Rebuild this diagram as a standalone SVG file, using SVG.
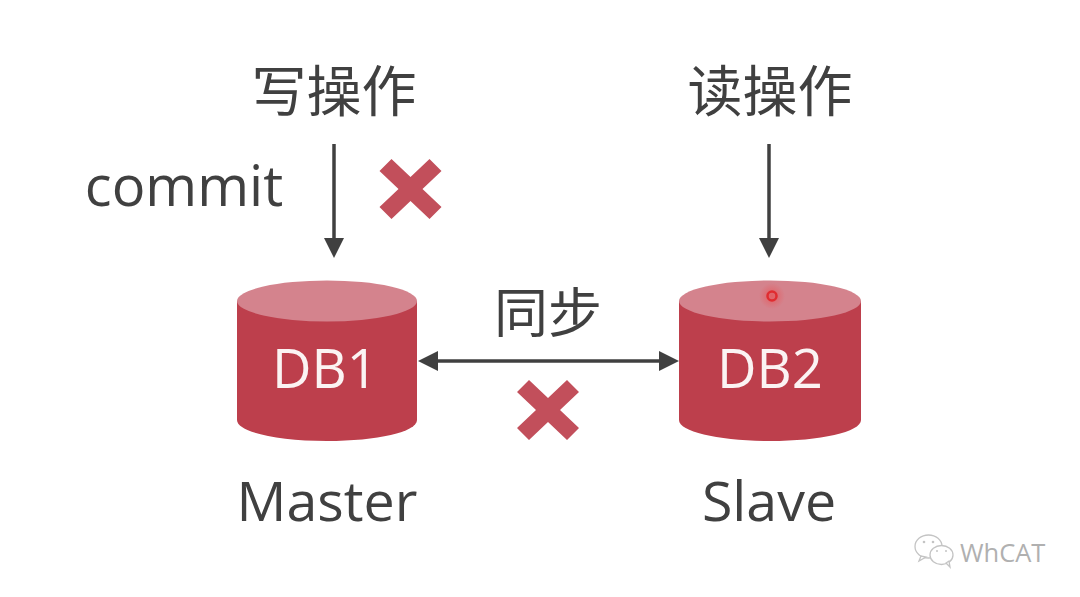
<svg xmlns="http://www.w3.org/2000/svg" width="1080" height="597" viewBox="0 0 1080 597">
<style>
.t{font-family:"Open Sans","Noto Sans","Noto Sans CJK SC",sans-serif;fill:#404040;text-anchor:middle}
.cjk{font-family:"Noto Sans CJK SC","Noto Sans",sans-serif;font-weight:400;fill:#404040;text-anchor:middle}
.db{font-family:"Open Sans","Noto Sans",sans-serif;fill:#fbf3f3;font-size:54.5px;text-anchor:middle}
.body{fill:#bd3f4c}.top{fill:#d4838d}
.x{fill:#c24f5b}
.c{stroke:#404040;stroke-width:3.5;fill:none}
.h{fill:#404040}
.w{fill:#fff;stroke:#c4c4c4;stroke-width:1.300}
</style>
<defs>
<radialGradient id="glow"><stop offset="0" stop-color="#f04040" stop-opacity=".55"/><stop offset="1" stop-color="#f04040" stop-opacity="0"/></radialGradient>
<path id="cross" d="M-19-30 0-12 19-30 31-18 12 0 31 18 19 30 0 12-19 30-31 18-12 0-31-18Z"/>
</defs>
<rect width="1080" height="597" fill="#fff"/>
<g id="connectors">
<path class="c" d="M334 144V240"/><path class="h" d="M324 238H344L334 258Z"/>
<path class="c" d="M769 144V240"/><path class="h" d="M759 238H779L769 258Z"/>
<path class="c" d="M435 361H662"/><path class="h" d="M418 361 438 351V371Z"/><path class="h" d="M679 361 659 351V371Z"/>
</g>
<g id="write-label"><text class="cjk" x="334" y="111" font-size="55">写操作</text></g>
<g id="read-label"><text class="cjk" x="770" y="111" font-size="55">读操作</text></g>
<g id="commit-label"><text class="t" x="184" y="206" font-size="56">commit</text></g>
<g id="cross-commit"><use href="#cross" class="x" x="410.500" y="189"/></g>
<g id="db1">
<path class="body" d="M237 301V420C237 432 277 441 327 441S417 432 417 420V301Z"/>
<ellipse class="top" cx="327" cy="301" rx="90" ry="20.500"/>
<text class="db" x="325" y="388">DB1</text>
</g>
<g id="db2">
<path class="body" d="M679 301V420C679 432 720 441 770 441S861 432 861 420V301Z"/>
<ellipse class="top" cx="770" cy="301" rx="91" ry="20.500"/>
<circle cx="772" cy="296" r="13" fill="url(#glow)"/>
<circle cx="772" cy="296" r="4.500" fill="none" stroke="#e02c30" stroke-width="2.500"/>
<text class="db" x="770" y="388">DB2</text>
</g>
<g id="sync-label"><text class="cjk" x="548" y="333" font-size="54">同步</text></g>
<g id="cross-sync"><use href="#cross" class="x" x="548" y="410"/></g>
<g id="master-label"><text class="t" x="327" y="521" font-size="55.500">Master</text></g>
<g id="slave-label"><text class="t" x="769" y="521" font-size="55.500">Slave</text></g>
<g id="watermark">
<ellipse class="w" cx="928.500" cy="546.500" rx="13.500" ry="11.500"/>
<path class="w" d="M921 556 919 561 926 557Z"/>
<ellipse class="w" cx="941.500" cy="555" rx="11.500" ry="9.500"/>
<path class="w" d="M946 563 950 567 949 561Z"/>
<g fill="#c4c4c4"><circle cx="924" cy="542" r="1.300"/><circle cx="933" cy="542" r="1.300"/><circle cx="937" cy="551" r="1"/><circle cx="946" cy="551" r="1"/></g>
<text x="960" y="562" font-family="'Open Sans',sans-serif" font-size="25.500" fill="#b0b0b0">WhCAT</text>
</g>
</svg>
